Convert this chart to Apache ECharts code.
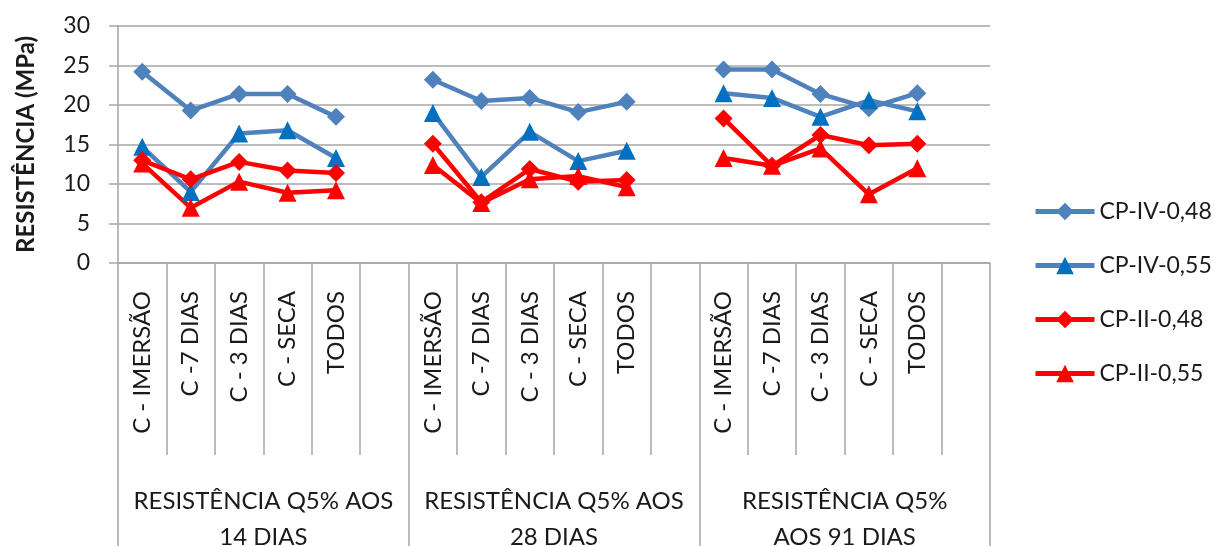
<!DOCTYPE html>
<html>
<head>
<meta charset="utf-8">
<script src="https://cdn.jsdelivr.net/npm/echarts@6/dist/echarts.min.js"></script>
<style>
  html, body { margin: 0; padding: 0; background: #fff; }
  #chart { width: 1221px; height: 546px; }
</style>
</head>
<body>
<div id="chart"></div>
<script>
// Cure conditions, repeated for each age group (blank slot separates groups)
const categories = [
  'C - IMERSÃO', 'C -7 DIAS', 'C - 3 DIAS', 'C - SECA', 'TODOS', '',
  'C - IMERSÃO', 'C -7 DIAS', 'C - 3 DIAS', 'C - SECA', 'TODOS', '',
  'C - IMERSÃO', 'C -7 DIAS', 'C - 3 DIAS', 'C - SECA', 'TODOS', ''
];
const groups = [
  'RESISTÊNCIA Q5% AOS\n14 DIAS',
  'RESISTÊNCIA Q5% AOS\n28 DIAS',
  'RESISTÊNCIA Q5%\nAOS 91 DIAS'
];
const yTicks = { min: 0, max: 30, interval: 5 };

// Compressive strength (MPa); null = gap between age groups
const cpIV048 = [24.2, 19.3, 21.4, 21.4, 18.5, null, 23.2, 20.5, 20.9, 19.1, 20.4, null, 24.5, 24.5, 21.4, 19.6, 21.5, null];
const cpIV055 = [14.7, 9.0, 16.4, 16.8, 13.3, null, 19.0, 10.9, 16.6, 12.9, 14.2, null, 21.5, 20.9, 18.5, 20.6, 19.2, null];
const cpII048 = [13.0, 10.6, 12.8, 11.7, 11.4, null, 15.1, 7.7, 11.9, 10.3, 10.5, null, 18.3, 12.3, 16.2, 14.9, 15.1, null];
const cpII055 = [12.6, 7.0, 10.3, 8.9, 9.2, null, 12.4, 7.6, 10.6, 11.0, 9.6, null, 13.3, 12.3, 14.5, 8.7, 12.0, null];

const FONT = 'Lato, "Open Sans", sans-serif';
const TEXT = '#1a1a1a';
const GRID_GRAY = '#A6A6A6';
const BLUE_LINE = '#4F81BD';
const BLUE_MARK = '#0070C0';
const RED = '#FF0000';

function lineSeries(name, data, symbol, lineColor, markColor) {
  return {
    name, type: 'line', data,
    xAxisIndex: 0,
    symbol, symbolSize: 18,
    connectNulls: false,
    lineStyle: { width: 4.5, color: lineColor },
    itemStyle: { color: markColor },
    emphasis: { disabled: true },
    animation: false
  };
}

const chart = echarts.init(document.getElementById('chart'), null, { renderer: 'canvas' });
chart.setOption({
  backgroundColor: '#fff',
  animation: false,
  grid: { left: 118, right: 231, top: 26, bottom: 283, containLabel: false, outerBoundsMode: 'none' },
  legend: {
    orient: 'vertical',
    left: 1033, top: 200, padding: 0,
    itemWidth: 59, itemHeight: 22, itemGap: 31,
    lineStyle: { width: 5 },
    textStyle: { fontFamily: FONT, fontSize: 23, lineHeight: 22, color: TEXT },
    data: ['CP-IV-0,48', 'CP-IV-0,55', 'CP-II-0,48', 'CP-II-0,55']
  },
  xAxis: [
    {
      type: 'category', data: categories, position: 'bottom',
      axisLine: { show: true, lineStyle: { color: GRID_GRAY, width: 1.5 } },
      axisTick: { show: true, interval: 0, length: 192, lineStyle: { color: GRID_GRAY, width: 1.5 } },
      axisLabel: { interval: 0, rotate: 90, margin: 28, fontFamily: FONT, fontSize: 24, color: TEXT },
      splitLine: { show: false }
    },
    {
      type: 'category', data: groups, position: 'bottom',
      axisLine: { show: false },
      axisTick: { show: true, interval: 0, length: 283, lineStyle: { color: GRID_GRAY, width: 1.5 } },
      axisLabel: { interval: 0, margin: 220, fontFamily: FONT, fontSize: 24, lineHeight: 36, color: TEXT },
      splitLine: { show: false }
    }
  ],
  yAxis: {
    type: 'value', min: yTicks.min, max: yTicks.max, interval: yTicks.interval,
    name: 'RESISTÊNCIA (MPa)', nameLocation: 'middle', nameRotate: 90, nameGap: 80,
    nameTextStyle: { fontFamily: FONT, fontSize: 24, fontWeight: 'bold', color: TEXT },
    axisLine: { show: true, lineStyle: { color: GRID_GRAY, width: 1.5 } },
    axisTick: { show: true, length: 9, lineStyle: { color: GRID_GRAY, width: 1.5 } },
    axisLabel: { margin: 28, fontFamily: FONT, fontSize: 23, color: TEXT },
    splitLine: { show: true, lineStyle: { color: GRID_GRAY, width: 1.5 } }
  },
  series: [
    lineSeries('CP-IV-0,48', cpIV048, 'diamond', BLUE_LINE, BLUE_LINE),
    lineSeries('CP-IV-0,55', cpIV055, 'triangle', BLUE_LINE, BLUE_MARK),
    lineSeries('CP-II-0,48', cpII048, 'diamond', RED, RED),
    lineSeries('CP-II-0,55', cpII055, 'triangle', RED, RED)
  ]
});
</script>
</body>
</html>
